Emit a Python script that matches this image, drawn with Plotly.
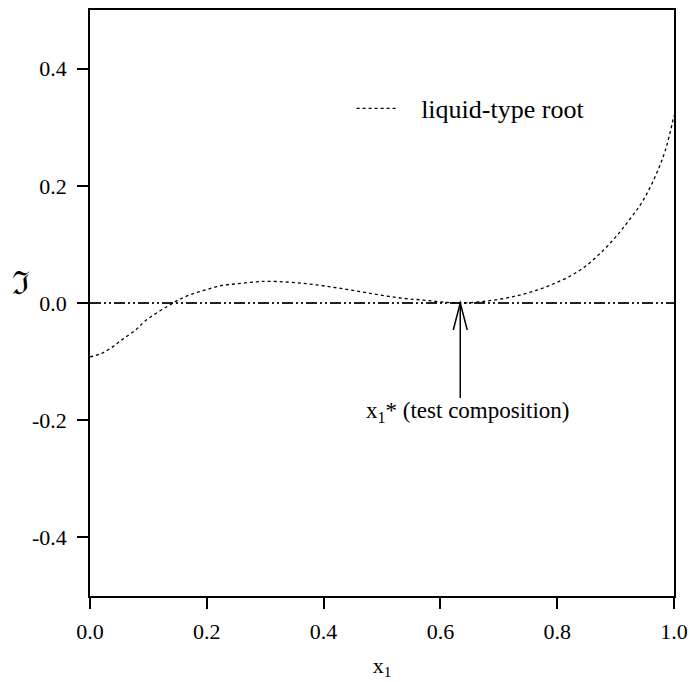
import plotly.graph_objects as go

# curve: liquid-type root
x_liquid = [0.0, 0.02, 0.04, 0.057, 0.077, 0.094, 0.114, 0.134, 0.151, 0.174, 0.20,
            0.226, 0.254, 0.283, 0.308, 0.365, 0.422, 0.479, 0.536, 0.571, 0.60,
            0.635, 0.668, 0.725, 0.782, 0.839, 0.885, 0.919, 0.947, 0.970, 0.985, 1.0]
y_liquid = [-0.092, -0.086, -0.074, -0.061, -0.047, -0.031, -0.017, -0.005, 0.005,
            0.015, 0.023, 0.030, 0.033, 0.036, 0.037, 0.0335, 0.026, 0.0165, 0.008,
            0.005, 0.002, 0.0, 0.002, 0.011, 0.028, 0.056, 0.096, 0.136, 0.175,
            0.221, 0.26, 0.32]

x_zero = [0.0, 1.0]
y_zero = [0.0, 0.0]

x_test = 0.634
arrow_bottom = -0.162
label_text = "x<sub>1</sub>* (test composition)"
legend_name = "\u00a0\u00a0\u00a0liquid-type root"

x_ticks = [0.0, 0.2, 0.4, 0.6, 0.8, 1.0]
x_ticktext = ["0.0", "0.2", "0.4", "0.6", "0.8", "1.0"]
y_ticks = [-0.4, -0.2, 0.0, 0.2, 0.4]
y_ticktext = ["-0.4", "-0.2", "0.0", "0.2", "0.4"]

FONT = "Liberation Serif, Times New Roman, serif"

fig = go.Figure()
fig.add_trace(go.Scatter(x=x_zero, y=y_zero, mode="lines", showlegend=False,
                         line=dict(color="#222", width=2, dash="11px,3px,2px,3px,2px,3px")))
fig.add_trace(go.Scatter(x=x_liquid, y=y_liquid, mode="lines", name=legend_name,
                         line=dict(color="black", width=1.3, dash="dot", shape="spline")))

# arrow shaft
fig.add_shape(type="line", x0=x_test, x1=x_test, y0=arrow_bottom, y1=0,
              line=dict(color="black", width=1.5))
# open arrowhead
fig.add_shape(type="path", xsizemode="pixel", ysizemode="pixel", xanchor=x_test, yanchor=0,
              path="M-7,-27 L0,0 L7,-27", line=dict(color="black", width=1.5))

fig.add_annotation(x=x_test + 0.013, y=-0.186, text=label_text, showarrow=False,
                   font=dict(family=FONT, size=23, color="black"), xanchor="center", yanchor="middle")

fig.add_annotation(x=-0.118, y=0.034, xref="paper", yref="y", text="\u2111", showarrow=False,
                   xanchor="center", yanchor="middle",
                   font=dict(family="DejaVu Serif, serif", size=32, color="black"))

fig.update_layout(
    width=690, height=682,
    margin=dict(l=90, r=16, t=10, b=86),
    plot_bgcolor="white", paper_bgcolor="white",
    font=dict(family=FONT, size=22, color="black"),
    legend=dict(x=0.448, y=0.832, xanchor="left", yanchor="middle", bgcolor="rgba(0,0,0,0)",
                font=dict(family=FONT, size=26), itemwidth=40),
    xaxis=dict(range=[0, 1], tickvals=x_ticks, ticktext=x_ticktext, ticks="outside", ticklen=11,
               tickwidth=1.5, tickcolor="black", showline=True, linecolor="black", linewidth=1.5,
               mirror=True, showgrid=False, zeroline=False, ticklabelstandoff=4,
               automargin=False,
               title=dict(text="x<sub>1</sub>", font=dict(family=FONT, size=22), standoff=14)),
    yaxis=dict(range=[-0.5, 0.5], tickvals=y_ticks, ticktext=y_ticktext, ticks="outside", ticklen=11,
               tickwidth=1.5, tickcolor="black", showline=True, linecolor="black", linewidth=1.5,
               mirror=True, showgrid=False, zeroline=False, ticklabelstandoff=6, automargin=False),
)

fig.write_html("out.html", config={"displayModeBar": False},
               post_script="document.body.style.margin='0px';")
